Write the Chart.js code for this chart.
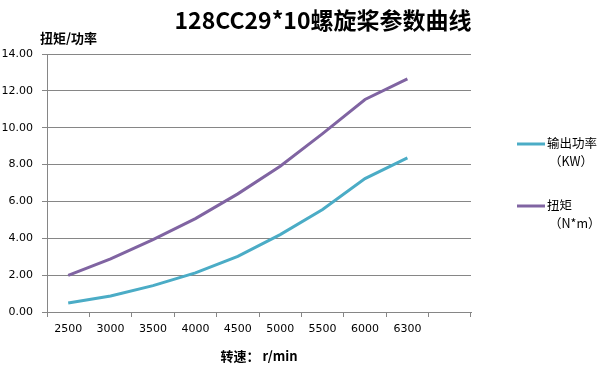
<!DOCTYPE html>
<html>
<head>
<meta charset="utf-8">
<script src="https://cdn.jsdelivr.net/npm/chart.js@4.4.1/dist/chart.umd.min.js"></script>
<style>
  html, body { margin: 0; padding: 0; background: #fff; }
  #wrap { width: 615px; height: 371px; position: relative; }
</style>
</head>
<body>
<div id="wrap"><canvas id="c" width="615" height="371"></canvas></div>
<script>
const chartTitle = '128CC29*10螺旋桨参数曲线';
const yAxisTitle = '扭矩/功率';
const xAxisTitle = '转速： r/min';
const categories = ['2500', '3000', '3500', '4000', '4500', '5000', '5500', '6000', '6300', ''];
const powerKW = [0.49, 0.87, 1.43, 2.12, 3.02, 4.20, 5.56, 7.24, 8.36];
const torqueNm = [1.99, 2.88, 3.93, 5.07, 6.41, 7.91, 9.68, 11.53, 12.65];
const seriesNames = ['输出功率', '扭矩'];
const seriesUnits = ['（KW）', '（N*m）'];
const yTicks = [0, 2, 4, 6, 8, 10, 12, 14];

const CJK = '"Noto Sans CJK SC", "DejaVu Sans", sans-serif';

const decorPlugin = {
  id: 'decor',
  afterDraw(chart) {
    const ctx = chart.ctx;
    const area = chart.chartArea;
    ctx.save();
    ctx.fillStyle = '#000';
    ctx.textBaseline = 'middle';
    // title
    ctx.font = 'bold 23px ' + CJK;
    ctx.textAlign = 'center';
    ctx.fillText(chartTitle, 323, 20);
    // y axis title
    ctx.font = 'bold 13px ' + CJK;
    ctx.textAlign = 'left';
    ctx.fillText(yAxisTitle, 40, 38);
    // x axis title
    ctx.textAlign = 'center';
    ctx.fillText(xAxisTitle, (area.left + area.right) / 2, 356);
    // legend
    const ds = chart.data.datasets;
    const ys = [144, 206];
    ds.forEach((d, i) => {
      const y = ys[i];
      ctx.strokeStyle = d.borderColor;
      ctx.lineWidth = 3;
      ctx.beginPath();
      ctx.moveTo(517, y);
      ctx.lineTo(545, y);
      ctx.stroke();
      ctx.fillStyle = '#000';
      ctx.font = '12.5px ' + CJK;
      ctx.textAlign = 'left';
      ctx.fillText(d.label, 547, y - 1);
      ctx.fillText(seriesUnits[i], 549, y + 17);
    });
    ctx.restore();
  }
};

new Chart(document.getElementById('c'), {
  type: 'line',
  data: {
    labels: categories,
    datasets: [
      { label: seriesNames[0], data: powerKW, borderColor: '#4BACC6', backgroundColor: '#4BACC6',
        borderWidth: 3, pointRadius: 0, tension: 0, fill: false },
      { label: seriesNames[1], data: torqueNm, borderColor: '#8064A2', backgroundColor: '#8064A2',
        borderWidth: 3, pointRadius: 0, tension: 0, fill: false }
    ]
  },
  options: {
    responsive: false,
    animation: false,
    devicePixelRatio: 1,
    layout: { padding: { top: 54, right: 144, bottom: 0, left: 0 } },
    plugins: { legend: { display: false }, title: { display: false }, tooltip: { enabled: false } },
    scales: {
      x: {
        type: 'category',
        offset: true,
        border: { color: '#868686', width: 1 },
        grid: { offset: true, drawOnChartArea: false, drawTicks: true, tickLength: 5, color: '#868686' },
        ticks: { color: '#000', font: { family: '"DejaVu Sans"', size: 11 }, padding: 6, maxRotation: 0, autoSkip: false },
        afterFit(s) { s.height = 59; }
      },
      y: {
        min: 0, max: 14,
        afterBuildTicks(s) { s.ticks = yTicks.map(v => ({ value: v })); },
        border: { color: '#868686', width: 1 },
        grid: { color: '#868686', tickLength: 5, drawTicks: true },
        ticks: { color: '#000', font: { family: '"DejaVu Sans"', size: 11 }, padding: 9,
          callback: v => Number(v).toFixed(2) },
        afterFit(s) { s.width = 47; }
      }
    }
  },
  plugins: [decorPlugin]
});
</script>
</body>
</html>
